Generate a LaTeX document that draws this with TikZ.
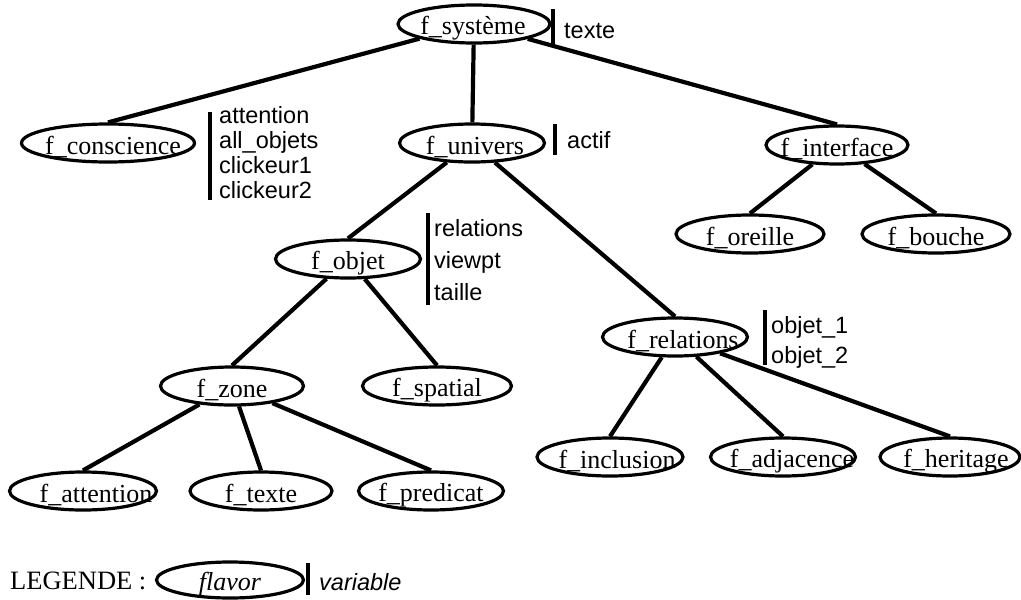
\documentclass[tikz,border=0pt]{standalone}
\usepackage{fontspec}
\setmainfont{Liberation Serif}
\setsansfont{Liberation Sans}
\usetikzlibrary{shapes.geometric}
\tikzset{
  fnode/.style={ellipse,draw,line width=3.2pt,inner sep=0pt,minimum height=38pt},
  ftext/.style={inner sep=0pt,anchor=base,yshift=-4pt,font=\fontsize{26}{26}\selectfont},
  edge/.style={line width=4.2pt},
  bar/.style={line width=3.2pt},
  attr/.style={anchor=west,align=left,inner sep=0pt,font=\sffamily\fontsize{23.5}{25}\selectfont}
}
\begin{document}
\begin{tikzpicture}[x=1pt,y=-1pt]
\useasboundingbox (0,0) rectangle (1021,600);
% nodes
\node[fnode,minimum width=152pt,label={[ftext,xshift=-1pt]center:f\_système}] (sys) at (474,24) {};
\node[fnode,minimum width=173pt,label={[ftext,xshift=5pt]center:f\_conscience}] (cons) at (108,143) {};
\node[fnode,minimum width=145pt,label={[ftext,xshift=3pt]center:f\_univers}] (univ) at (472,143) {};
\node[fnode,minimum width=142pt,label={[ftext]center:f\_interface}] (interf) at (837,145) {};
\node[fnode,minimum width=148pt,label={[ftext]center:f\_oreille}] (oreille) at (750,234) {};
\node[fnode,minimum width=148pt,label={[ftext]center:f\_bouche}] (bouche) at (936,234) {};
\node[fnode,minimum width=145pt,label={[ftext]center:f\_objet}] (objet) at (348,259) {};
\node[fnode,minimum width=145pt,label={[ftext,xshift=8pt]center:f\_relations}] (rel) at (675,337) {};
\node[fnode,minimum width=143pt,label={[ftext]center:f\_zone}] (zone) at (232,386) {};
\node[fnode,minimum width=149pt,label={[ftext]center:f\_spatial}] (spatial) at (437,386) {};
\node[fnode,minimum width=147pt,label={[ftext,xshift=13pt]center:f\_attention}] (attention) at (83,491) {};
\node[fnode,minimum width=142pt,label={[ftext]center:f\_texte}] (texte) at (261,491) {};
\node[fnode,minimum width=145pt,label={[ftext]center:f\_predicat}] (predicat) at (431,491) {};
\node[fnode,minimum width=146pt,label={[ftext,xshift=7pt]center:f\_inclusion}] (inclusion) at (610,457) {};
\node[fnode,minimum width=145pt,label={[ftext,xshift=9pt]center:f\_adjacence}] (adjacence) at (783,457) {};
\node[fnode,minimum width=140pt,label={[ftext,xshift=6pt]center:f\_heritage}] (heritage) at (950,457) {};
% edges
\draw[edge] (sys) -- (cons.north);
\draw[edge] (sys) -- (univ);
\draw[edge] (sys) -- (interf.north);
\draw[edge] (univ) -- (objet.north);
\draw[edge] (univ) -- (rel.north);
\draw[edge] (interf) -- (oreille.north);
\draw[edge] (interf) -- (bouche.north);
\draw[edge] (objet) -- (zone.north);
\draw[edge] (objet) -- (spatial.north);
\draw[edge] (zone) -- (attention.north);
\draw[edge] (zone) -- (texte.north);
\draw[edge] (zone) -- (predicat.north);
\draw[edge] (rel) -- (inclusion.north);
\draw[edge] (rel) -- (adjacence.north);
\draw[edge] (rel) -- (heritage.north);
% attribute lists
\draw[bar] (553,9) -- (553,45);
\node[attr] (tsys) at (564,31) {texte};
\draw[bar] (210,112) -- (210,200);
\node[attr] (tcons) at (219,153) {attention\\all\_objets\\clickeur1\\clickeur2};
\draw[bar] (555,124) -- (555,155);
\node[attr] (tuniv) at (567,140) {actif};
\draw[bar] (428,213) -- (428,305);
\node[attr,font=\sffamily\fontsize{23.5}{32}\selectfont] (tobj) at (434,260) {relations\\viewpt\\taille};
\draw[bar] (765,310) -- (765,365);
\node[attr,font=\sffamily\fontsize{23.5}{30}\selectfont] (trel) at (771,342) {objet\_1\\objet\_2};
% legend
\node[anchor=base west,inner sep=0pt,font=\fontsize{26.5}{28}\selectfont] (leg) at (10,589) {LEGENDE :};
\node[fnode,minimum width=147pt,minimum height=36pt,label={[ftext,font=\itshape\fontsize{26}{26}\selectfont]center:flavor}] (flav) at (230,580) {};
\draw[bar] (308,563) -- (308,595);
\node[attr,font=\sffamily\itshape\fontsize{23.5}{25}\selectfont] (var) at (319,582) {variable};
\end{tikzpicture}
\end{document}
